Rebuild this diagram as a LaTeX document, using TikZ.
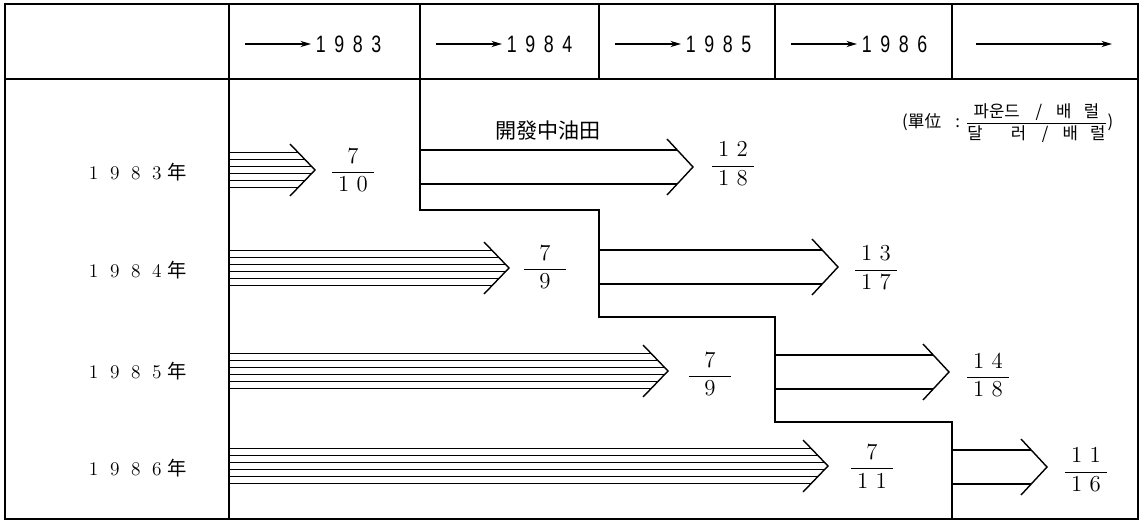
\documentclass[tikz,border=0pt]{standalone}
\usepackage{fontspec}
\newfontfamily\cjk{Noto Sans CJK KR}
\newfontfamily\hdrfont[FakeStretch=0.75]{Liberation Sans}
\usetikzlibrary{arrows.meta}

\newcommand\fwd[1]{\makebox[12pt]{#1}}
\newcommand\hdg[1]{\makebox[10.5pt]{#1}}
\newcommand\frc[2]{$\displaystyle\frac{\makebox[24pt]{#1}}{\makebox[24pt]{#2}}$}

\begin{document}
\begin{tikzpicture}[x=0.02cm, y=-0.02cm, line width=0.8pt,
    frame/.style={line width=1.1pt},
    grid/.style={line width=0.9pt},
    hdr/.style={font=\hdrfont\fontsize{13.5}{15}\selectfont, inner sep=0pt},
    yrlabel/.style={font=\fontsize{11}{13}\selectfont},
    frac/.style={font=\fontsize{13}{15}\selectfont, inner sep=0pt},
    hatch/.style={line width=0.75pt},
    yrarrow/.style={-{Stealth[length=6pt,width=3.5pt]}, line width=0.7pt}]
    \useasboundingbox (0,0) rectangle (1143,523);
    % Frame and header grid
    \draw[frame] (5,4) rectangle (1138,519);
    \draw[grid] (5,79) -- (1138,79);
    \foreach \x in {420,599,775,952} {
        \draw[grid] (\x,4) -- (\x,79);
    }
    \draw[grid] (229,4) -- (229,519);
    % Header: years
    \foreach \cx/\a/\b/\c/\d [count=\i] in {229/1/9/8/3, 420/1/9/8/4, 599/1/9/8/5, 775/1/9/8/6} {
        \node[hdr, anchor=west] (hy\i) at (\cx+82,44) {\hdg\a\hdg\b\hdg\c\hdg\d};
        \coordinate (ha\i) at (\cx+16,44);
        \draw[yrarrow] (ha\i) -- (hy\i.west);
    }
    \coordinate (hl0) at (976,44);
    \coordinate (hl1) at (1112,44);
    \draw[yrarrow] (hl0) -- (hl1);
    % Row labels
    \foreach \d/\cy [count=\i] in {3/172, 4/270, 5/371, 6/468} {
        \node[yrlabel] (yr\i) at (135,\cy) {\fwd1\fwd9\fwd8\fwd\d{\cjk 年}};
    }
    % Staircase
    \draw (420,79) -- (420,210) -- (599,210) -- (599,317) -- (775,317)
        -- (775,422) -- (952,422) -- (952,519);
    % Producing fields (hatched arrows)
    \foreach \cy/\tip in {170/315, 268/509, 371/668, 466/828} {
        \foreach \d in {-17.5,-10.5,-3.5,3.5,10.5,17.5} {
            \draw[hatch] (229,{\cy+(\d)}) -- ({\tip-1-24*abs(\d)/26},{\cy+(\d)});
        }
        \draw (\tip-25,\cy-26) -- (\tip,\cy) -- (\tip-25,\cy+26);
    }
    \node[frac] (pf1) at (353,170) {\frc{7}{1~0}};
    \node[frac] (pf2) at (545,267) {\frc{7}{9}};
    \node[frac] (pf3) at (710,374) {\frc{7}{9}};
    \node[frac] (pf4) at (872,466) {\frc{7}{1~1}};
    % Developing fields (open arrows)
    \foreach \x/\cy/\tip in {420/167/693, 599/267/838, 775/372/949, 952/467/1047} {
        \draw (\x,\cy-17) -- (\tip-16,\cy-17);
        \draw (\x,\cy+17) -- (\tip-16,\cy+17);
        \draw (\tip-26,\cy-28) -- (\tip,\cy) -- (\tip-26,\cy+28);
    }
    \node[font=\cjk\fontsize{12}{14}\selectfont] (dev) at (548,131) {開發中油田};
    \node[frac] (df1) at (733,164) {\frc{1~2}{1~8}};
    \node[frac] (df2) at (876,268) {\frc{1~3}{1~7}};
    \node[frac] (df3) at (988,375) {\frc{1~4}{1~8}};
    \node[frac] (df4) at (1086,470) {\frc{1~1}{1~6}};
    % Unit
    \node[anchor=east, inner sep=0pt, font=\cjk\fontsize{9.5}{11}\selectfont] (unit) at (1114,123)
        {(單位\hspace{8pt}:\hspace{3pt}$\displaystyle\frac{\hbox{파운드\hspace{9pt}/\hspace{8pt}배\hspace{7pt}럴}}{\hbox{달\hspace{16pt}러\hspace{9pt}/\hspace{8pt}배\hspace{7pt}럴}}$)};
\end{tikzpicture}
\end{document}
